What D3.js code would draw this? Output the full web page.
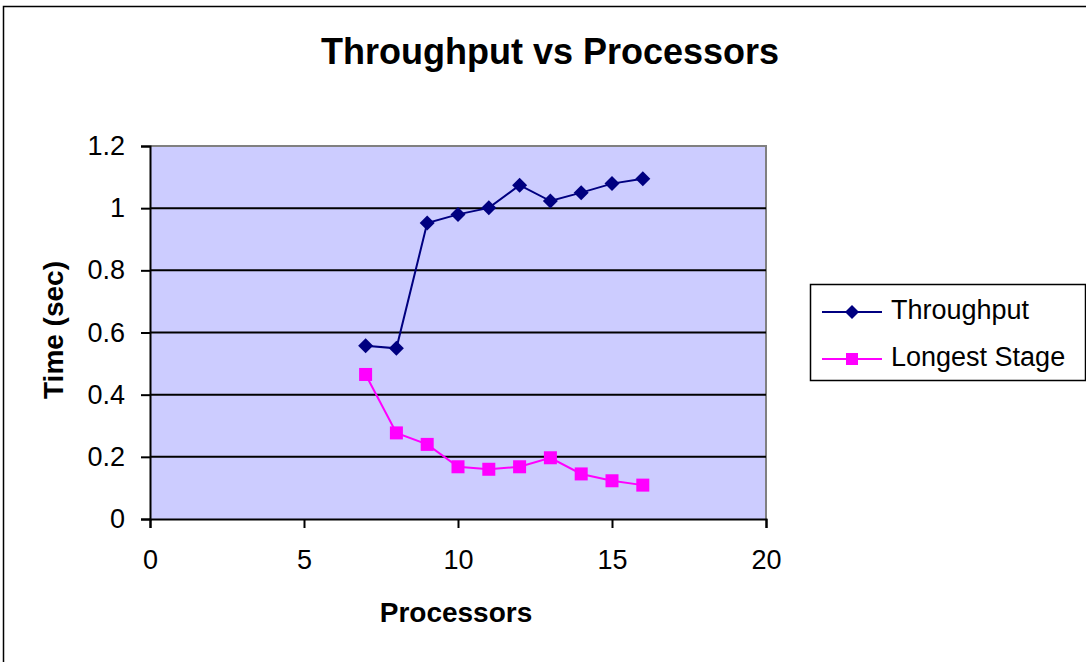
<!DOCTYPE html>
<html><head><meta charset="utf-8">
<script src="https://cdn.jsdelivr.net/npm/d3@7"></script>
<style>body{margin:0;background:#fff}svg{display:block}text{font-family:"Liberation Sans",Arial,sans-serif}</style>
</head><body>
<script>
const processors = [7, 8, 9, 10, 11, 12, 13, 14, 15, 16];
const throughput = [0.557, 0.549, 0.952, 0.980, 1.001, 1.074, 1.023, 1.050, 1.079, 1.095];
const longestStage = [0.465, 0.277, 0.240, 0.168, 0.160, 0.168, 0.197, 0.145, 0.123, 0.109];
const xTicks = [0, 5, 10, 15, 20];
const yTicks = [0, 0.2, 0.4, 0.6, 0.8, 1, 1.2];
const seriesNames = ["Throughput", "Longest Stage"];
const seriesColors = ["#000080", "#FF00FF"];

const W = 1086, H = 662;
const svg = d3.select("body").append("svg").attr("width", W).attr("height", H);
svg.append("rect").attr("x", 3.5).attr("y", 6.5).attr("width", W + 10).attr("height", H + 10)
  .attr("fill", "#fff").attr("stroke", "#000").attr("stroke-width", 1.5);

const L = 150, R = 766, T = 146, B = 519;
const x = d3.scaleLinear().domain([0, 20]).range([L, R]);
const y = d3.scaleLinear().domain([0, 1.2]).range([B, T]);

svg.append("rect").attr("x", L).attr("y", T).attr("width", R - L).attr("height", B - T).attr("fill", "#CCCCFF");
svg.append("path").attr("d", `M${L},${T}H${R}V${B}`).attr("fill", "none").attr("stroke", "#808080").attr("stroke-width", 2);

svg.append("g").selectAll("line").data(yTicks.filter(d => d > 0 && d < 1.2)).join("line")
  .attr("x1", L).attr("x2", R).attr("y1", d => y(d)).attr("y2", d => y(d))
  .attr("stroke", "#000").attr("stroke-width", 2);

const yAxis = svg.append("g").attr("transform", `translate(${L},0)`)
  .call(d3.axisLeft(y).tickValues(yTicks).tickSize(9).tickPadding(16).tickFormat(d => String(+d.toFixed(1))));
const xAxis = svg.append("g").attr("transform", `translate(0,${B})`)
  .call(d3.axisBottom(x).tickValues(xTicks).tickSize(9).tickPadding(22).tickFormat(d3.format("d")));
[yAxis, xAxis].forEach(a => {
  a.select(".domain").attr("stroke", "#000").attr("stroke-width", 2);
  a.selectAll(".tick line").attr("stroke", "#000").attr("stroke-width", 2);
  a.selectAll(".tick text").attr("fill", "#000").style("font-size", "27px").style("font-family", '"Liberation Sans",Arial,sans-serif');
});

const data = processors.map((p, i) => ({p, t: throughput[i], s: longestStage[i]}));
const lineT = d3.line().x(d => x(d.p)).y(d => y(d.t));
const lineS = d3.line().x(d => x(d.p)).y(d => y(d.s));
svg.append("path").datum(data).attr("d", lineT).attr("fill", "none").attr("stroke", seriesColors[0]).attr("stroke-width", 2);
svg.append("path").datum(data).attr("d", lineS).attr("fill", "none").attr("stroke", seriesColors[1]).attr("stroke-width", 2);

const diamond = (cx, cy, r) => `M${cx},${cy - r}L${cx + r},${cy}L${cx},${cy + r}L${cx - r},${cy}Z`;
svg.append("g").selectAll("path").data(data).join("path")
  .attr("d", d => diamond(x(d.p), y(d.t), 7.5)).attr("fill", seriesColors[0]);
svg.append("g").selectAll("rect").data(data).join("rect")
  .attr("x", d => x(d.p) - 6.5).attr("y", d => y(d.s) - 6.5).attr("width", 13).attr("height", 13).attr("fill", seriesColors[1]);

svg.append("text").attr("x", 550).attr("y", 64).attr("text-anchor", "middle")
  .style("font-size", "36px").style("font-weight", "bold").text("Throughput vs Processors");
svg.append("text").attr("x", 456).attr("y", 622).attr("text-anchor", "middle")
  .style("font-size", "28px").style("font-weight", "bold").text("Processors");
svg.append("text").attr("transform", "translate(63,330) rotate(-90)").attr("text-anchor", "middle")
  .style("font-size", "28px").style("font-weight", "bold").text("Time (sec)");

const lg = svg.append("g");
lg.append("rect").attr("x", 810.5).attr("y", 284.5).attr("width", 275).attr("height", 96)
  .attr("fill", "#fff").attr("stroke", "#000").attr("stroke-width", 1.5);
const ly = [312, 359];
seriesNames.forEach((n, i) => {
  lg.append("line").attr("x1", 822).attr("x2", 882).attr("y1", ly[i]).attr("y2", ly[i]).attr("stroke", seriesColors[i]).attr("stroke-width", 2);
  if (i === 0) lg.append("path").attr("d", diamond(852, ly[i], 7)).attr("fill", seriesColors[i]);
  else lg.append("rect").attr("x", 846).attr("y", ly[i] - 6).attr("width", 12).attr("height", 12).attr("fill", seriesColors[i]);
  lg.append("text").attr("x", 891).attr("y", ly[i] + 7).style("font-size", "27px").text(n);
});
</script>
</body></html>
